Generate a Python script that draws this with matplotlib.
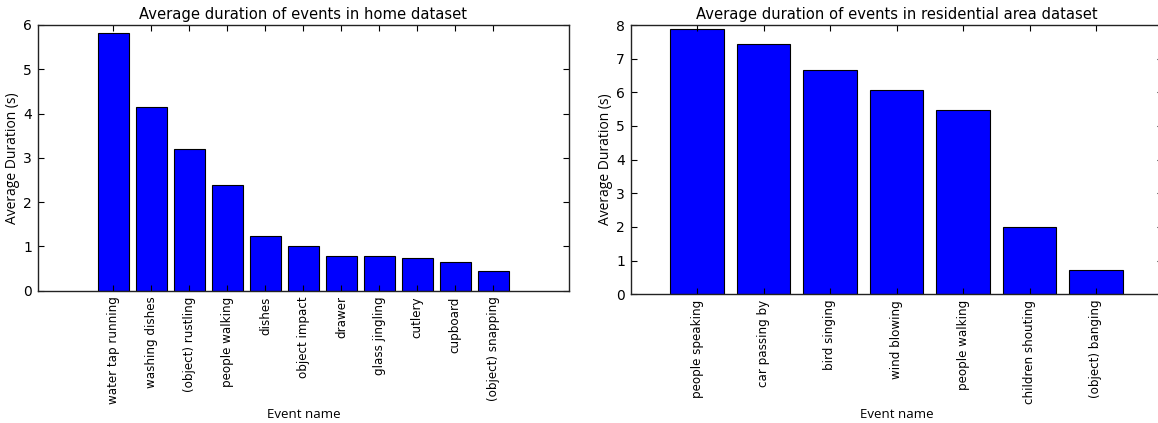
import matplotlib
matplotlib.use("Agg")
import matplotlib.pyplot as plt
import numpy as np

home_events = ["water tap running", "washing dishes", "(object) rustling", "people walking",
               "dishes", "object impact", "drawer", "glass jingling", "cutlery", "cupboard",
               "(object) snapping"]
home_durations = [5.82, 4.15, 3.19, 2.38, 1.24, 1.01, 0.79, 0.79, 0.74, 0.65, 0.44]

res_events = ["people speaking", "car passing by", "bird singing", "wind blowing",
              "people walking", "children shouting", "(object) banging"]
res_durations = [7.87, 7.43, 6.65, 6.07, 5.48, 1.99, 0.72]

W, H = 1158, 423
fig = plt.figure(figsize=(W / 100, H / 100), dpi=100)
fig.patch.set_facecolor("white")


def make_axes(x0, x1, y0, y1):
    return fig.add_axes([x0 / W, 1 - y1 / H, (x1 - x0) / W, (y1 - y0) / H])


def style(ax):
    ax.tick_params(direction="in", length=4, width=0.8, top=True, right=True,
                   colors="black")
    ax.tick_params(axis="y", labelsize=10, pad=4)
    ax.tick_params(axis="x", labelsize=8.6, pad=4)
    for s in ax.spines.values():
        s.set_linewidth(1.0)
        s.set_color("#222222")


axL = make_axes(37.5, 569.3, 25, 290.7)
axR = make_axes(630.5, 1162.5, 25, 294.3)

for ax, events, vals, xlim, ylim, title in [
    (axL, home_events, home_durations, (-2, 12), (0, 6), "Average duration of events in home dataset"),
    (axR, res_events, res_durations, (-1, 7), (0, 8), "Average duration of events in residential area dataset"),
]:
    x = np.arange(len(events))
    ax.bar(x, vals, width=0.8, color="#0000ff", edgecolor="black", linewidth=0.8)
    ax.set_xlim(*xlim)
    ax.set_ylim(*ylim)
    ax.set_xticks(x)
    ax.set_xticklabels(events, rotation=90)
    ax.set_yticks(np.arange(ylim[0], ylim[1] + 1))
    style(ax)
    ax.set_title(title, fontsize=10.6, pad=4)
    ax.set_ylabel("Average Duration (s)", fontsize=10, labelpad=2,
                  family=["Open Sans", "DejaVu Sans"])
    ax.set_xlabel("Event name", fontsize=9.5, labelpad=3,
                  family=["Liberation Sans Narrow", "Open Sans", "DejaVu Sans"])

fig.savefig("out.png", dpi=100, facecolor="white")
